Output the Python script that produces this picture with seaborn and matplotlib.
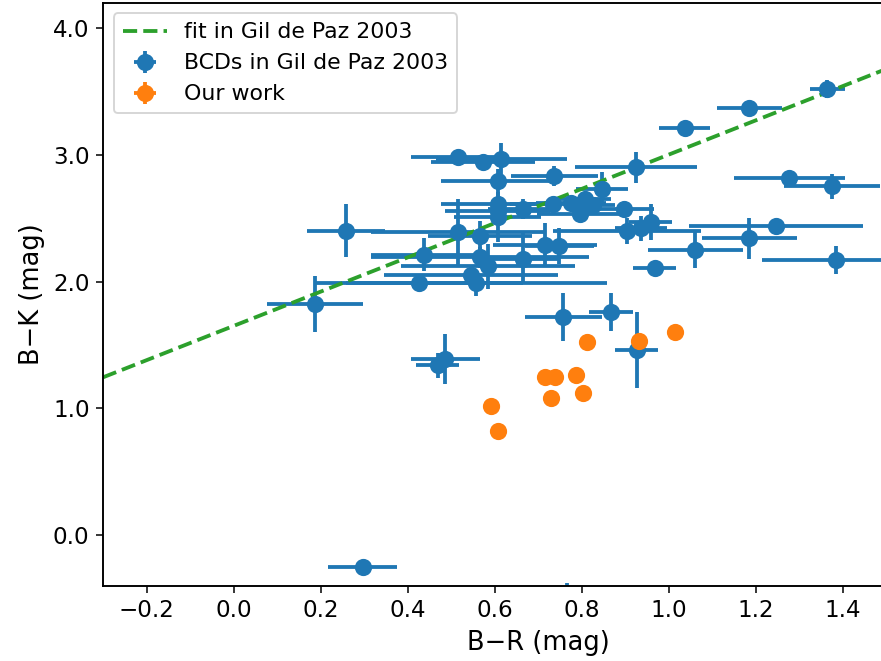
import numpy as np
import matplotlib
matplotlib.use("Agg")
import matplotlib.pyplot as plt
import seaborn as sns
from matplotlib.ticker import FuncFormatter

# ---- data ----
bcd_br = [1.365, 1.186, 1.037, 0.517, 0.574, 0.616, 0.607, 0.737, 0.925, 0.847,
          0.607, 0.607, 0.607, 0.666, 0.735, 0.776, 0.808, 0.797, 0.826, 0.897,
          0.904, 0.937, 0.959, 0.517, 0.567, 0.437, 0.567, 0.586, 0.547, 0.666,
          0.716, 0.749, 0.426, 0.558, 1.278, 1.376, 1.246, 1.186, 1.062, 1.385,
          0.968, 0.258, 0.187, 0.758, 0.868, 0.927, 0.487, 0.469, 0.297, 0.767]
bcd_bk = [3.52, 3.37, 3.21, 2.98, 2.94, 2.97, 2.79, 2.83, 2.90, 2.73,
          2.61, 2.56, 2.51, 2.57, 2.61, 2.62, 2.65, 2.53, 2.60, 2.57,
          2.40, 2.42, 2.47, 2.39, 2.36, 2.21, 2.19, 2.12, 2.05, 2.18,
          2.29, 2.28, 1.99, 1.99, 2.82, 2.75, 2.44, 2.34, 2.25, 2.17,
          2.11, 2.40, 1.82, 1.72, 1.76, 1.46, 1.39, 1.34, -0.25, -0.60]
bcd_br_err = [0.04, 0.075, 0.058, 0.11, 0.12, 0.15, 0.13, 0.10, 0.14, 0.06,
              0.13, 0.12, 0.10, 0.08, 0.10, 0.08, 0.06, 0.10, 0.05, 0.07,
              0.17, 0.06, 0.05, 0.20, 0.12, 0.12, 0.25, 0.20, 0.20, 0.08,
              0.12, 0.08, 0.24, 0.30, 0.128, 0.11, 0.20, 0.11, 0.11, 0.17,
              0.05, 0.09, 0.11, 0.088, 0.05, 0.05, 0.08, 0.05, 0.08, 0.02]
bcd_bk_err = [0.07, 0.03, 0.03, 0.03, 0.03, 0.12, 0.10, 0.08, 0.12, 0.13,
              0.10, 0.10, 0.20, 0.08, 0.06, 0.05, 0.05, 0.05, 0.05, 0.05,
              0.10, 0.10, 0.14, 0.26, 0.12, 0.13, 0.08, 0.18, 0.05, 0.20,
              0.17, 0.14, 0.05, 0.10, 0.05, 0.10, 0.05, 0.16, 0.14, 0.11,
              0.03, 0.21, 0.22, 0.19, 0.15, 0.30, 0.20, 0.10, 0.03, 0.22]

our_br = [0.813, 1.014, 0.932, 0.716, 0.739, 0.787, 0.730, 0.804, 0.591, 0.607]
our_bk = [1.52, 1.60, 1.53, 1.25, 1.25, 1.26, 1.08, 1.12, 1.02, 0.82]
our_br_err = [0.0] * len(our_br)
our_bk_err = [0.0] * len(our_bk)

fit_slope = 1.35
fit_intercept = 1.65

xticks = [-0.2, 0.0, 0.2, 0.4, 0.6, 0.8, 1.0, 1.2, 1.4]
yticks = [0.0, 1.0, 2.0, 3.0, 4.0]

# ---- figure ----
DPI = 137.66
fig = plt.figure(figsize=(881 / DPI, 661 / DPI), dpi=DPI)
ax = fig.add_axes([103 / 881, 1 - 586 / 661, 870 / 881, 583.5 / 661])
xlim = (-0.3, 1.7)
ylim = (-0.4, 4.2)

ax.errorbar(bcd_br, bcd_bk, xerr=bcd_br_err, yerr=bcd_bk_err, fmt='o',
            color='#1f77b4', ms=8, elinewidth=2, label='BCDs in Gil de Paz 2003')
ax.errorbar(our_br, our_bk, xerr=our_br_err, yerr=our_bk_err, fmt='o',
            color='#ff7f0e', ms=8, elinewidth=2, label='Our work')

xfit = np.array(xlim)
sns.lineplot(x=xfit, y=fit_slope * xfit + fit_intercept, ax=ax, color='#2ca02c',
             linestyle='--', linewidth=2, label='fit in Gil de Paz 2003')

ax.set_xlim(*xlim)
ax.set_ylim(*ylim)
ax.set_xticks(xticks)
ax.set_yticks(yticks)
fmt = FuncFormatter(lambda v, p: f"{v:.1f}".replace('-', '\u2212'))
ax.xaxis.set_major_formatter(fmt)
ax.yaxis.set_major_formatter(fmt)
ax.tick_params(labelsize=12)
ax.set_xlabel('B\u2212R (mag)', fontsize=13.5)
ax.set_ylabel('B\u2212K (mag)', fontsize=13.5)
for s in ax.spines.values():
    s.set_linewidth(1.0)

ax.legend(loc='upper left', fontsize=11.5)

fig.savefig('out.png', dpi=DPI)
